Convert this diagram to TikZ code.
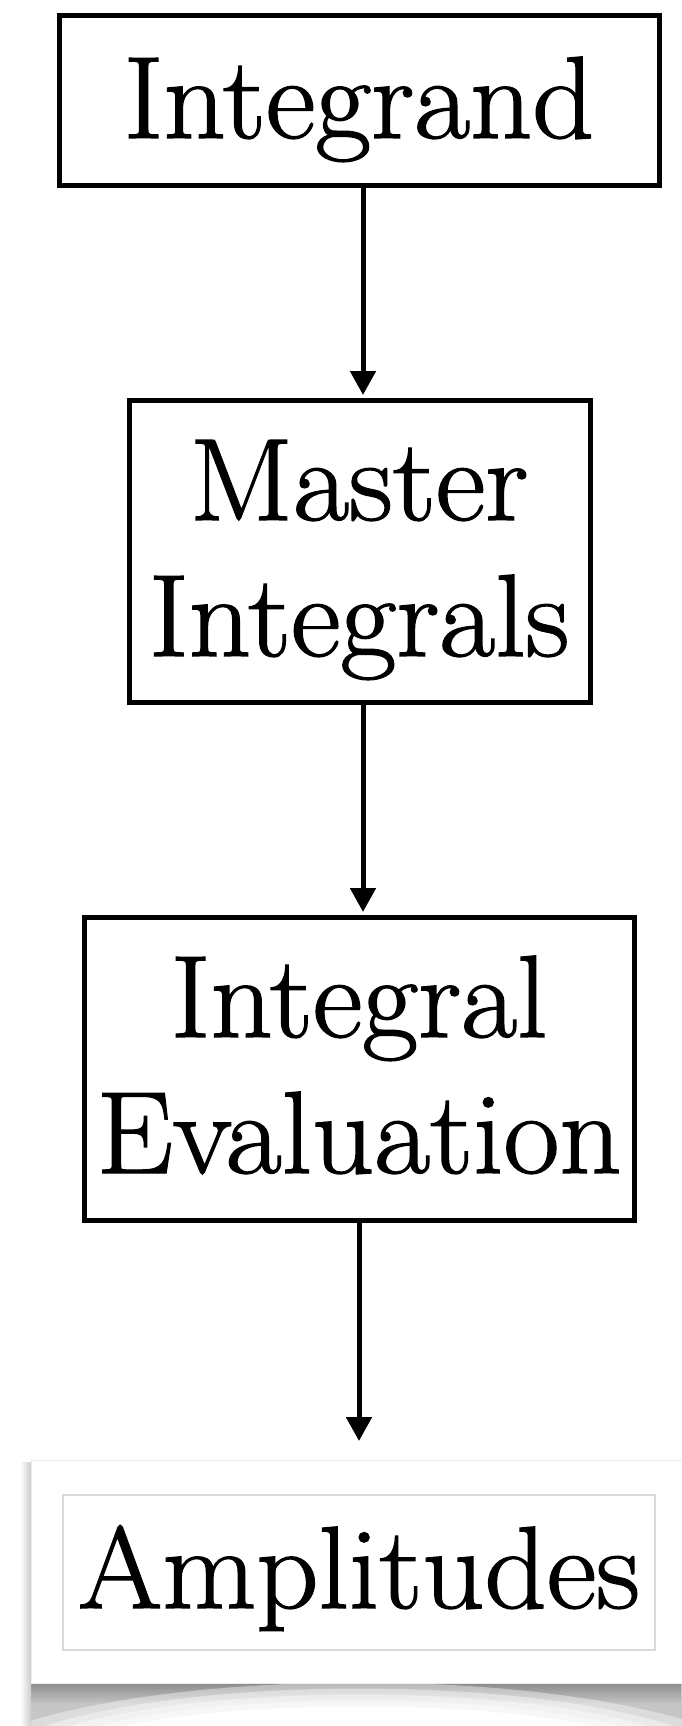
\documentclass[tikz,border=0pt]{standalone}
\usepackage{fontspec}
\setmainfont{Latin Modern Roman}
\newfontfamily\heavyrm[FakeBold=1.2]{Latin Modern Roman}
\usetikzlibrary{arrows.meta,fadings}
\newcommand{\widetxt}[1]{\scalebox{1.04}[1]{#1}}
\begin{document}
\begin{tikzpicture}[x=1pt,y=-1pt,
  box/.style={draw=black,line width=5pt,inner sep=0pt,rectangle},
  txt/.style={inner sep=0pt,anchor=base,font=\heavyrm\fontsize{117}{130}\selectfont},
  flow/.style={line width=5pt,-{Triangle[width=25pt,length=24pt]}},
  card/.style={rectangle,fill=white,draw=gray!15,line width=0.8pt,inner sep=0pt},
  inner/.style={rectangle,draw=gray!30,line width=1.2pt,inner sep=0pt}]
\useasboundingbox (0,0) rectangle (682,1726);
\fill[white] (0,0) rectangle (682,1726);
% boxes
\node[box,minimum width=600pt,minimum height=169pt] (b1) at (359,100.5) {};
\node[box,minimum width=461pt,minimum height=302pt] (b2) at (359.5,551) {};
\node[box,minimum width=550pt,minimum height=303pt] (b3) at (359,1068.5) {};
% texts
\node[txt] (t1) at (359,138) {\widetxt{Integrand}};
\node[txt] (t2a) at (359,520) {\widetxt{Master}};
\node[txt] (t2b) at (359,656) {\widetxt{Integrals}};
\node[txt] (t3a) at (359,1037) {\widetxt{Integral}};
\node[txt] (t3b) at (359,1173) {\widetxt{Evaluation}};
% arrows
\draw[flow] ([xshift=4pt]b1.south) -- ([xshift=3.5pt,yshift=2.5pt]b2.north);
\draw[flow] ([xshift=3.5pt]b2.south) -- ([xshift=4pt,yshift=2.5pt]b3.north);
\coordinate (a3end) at (359,1441);
\draw[flow] (b3.south) -- (a3end);
% amplitudes card with curled shadow
\fill[gray!45] (31,1683) rectangle (682,1726);
\shade[left color=black!45,middle color=black!65,right color=black!45,path fading=south] (31,1683) rectangle (682,1704);
\foreach \t/\hw in {1668/345,1676/315,1684/290,1692/262}
  \fill[white,opacity=0.4] (359-\hw,1726) .. controls (359-\hw*0.5,\t) and (359+\hw*0.5,\t) .. (359+\hw,1726) -- cycle;
\fill[white] (359-235,1726) .. controls (359-117,1700) and (359+117,1700) .. (359+235,1726) -- cycle;
\shade[left color=white,right color=gray!40] (20,1462) rectangle (31,1726);
\node[card,minimum width=651pt,minimum height=223pt] (card) at (356.5,1571.5) {};
\node[inner,minimum width=592pt,minimum height=155pt] (ib) at (359,1572.5) {};
\node[txt] (t4) at (359,1608) {\widetxt{Amplitudes}};
\end{tikzpicture}
\end{document}
